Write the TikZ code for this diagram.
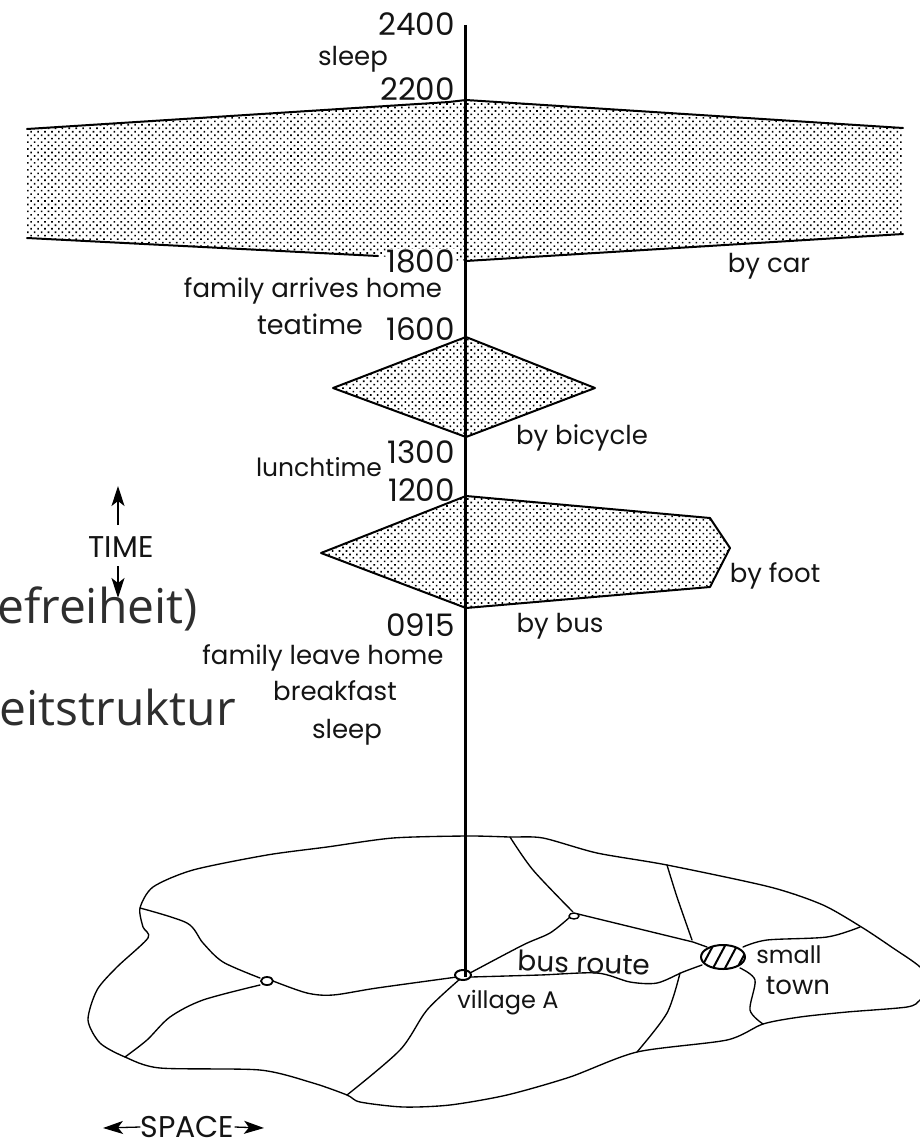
\documentclass[tikz,border=0pt]{standalone}
\usepackage{fontspec}
\setmainfont{Poppins}
\newfontfamily\overlayfont{Open Sans}
\usetikzlibrary{patterns.meta,arrows.meta}
\tikzset{
  x=1pt,y=-1pt,
  dotfill/.style={pattern={Dots[radius=1.15pt,distance=4.9pt,angle=45]},pattern color=black},
  bandedge/.style={line width=2pt,line cap=round,line join=round},
  road/.style={line width=1.35pt,line cap=round,line join=round},
  axisline/.style={line width=3pt},
  num/.style={inner sep=0pt,text=black!92,font=\fontsize{31}{33}\selectfont,anchor=east},
  lab/.style={inner sep=0pt,text=black!92,font=\fontsize{26}{28}\selectfont},
  labsmall/.style={inner sep=0pt,text=black!92,font=\fontsize{24}{26}\selectfont},
  labbig/.style={inner sep=0pt,text=black!92,font=\fontsize{30}{32}\selectfont},
  overtext/.style={inner sep=0pt,anchor=base east,text=black!82,font=\overlayfont\fontsize{48}{52}\selectfont},
  arrowline/.style={-{Stealth[length=20pt,width=13pt,inset=5pt]},line width=1.3pt}
}
\begin{document}
\begin{tikzpicture}
\useasboundingbox (0,0) rectangle (920,1140);
\fill[white] (0,0) rectangle (920,1140);
% dotted areas
\path[dotfill] (27,129) -- (466,100) -- (903,128) -- (903,234) -- (466,261) -- (27,238) -- cycle;
\path[dotfill] (466,337) -- (595,388) -- (466,437) -- (333,388) -- cycle;
\path[dotfill] (466,496) -- (710,518) -- (730,548) -- (710,587) -- (466,608) -- (321,553) -- cycle;
% band outlines
\draw[bandedge] (27,129) -- (449,102) -- (466,100) -- (903,128);
\draw[bandedge] (903,234) -- (466,261);
\draw[bandedge] (27,238) -- (378,256);
\draw[bandedge] (466,337) -- (595,388) -- (466,437) -- (333,388) -- cycle;
\draw[bandedge] (466,496) -- (710,518) -- (730,548) -- (710,587) -- (466,608) -- (321,553) -- cycle;
% map outline
\draw[road] plot[smooth cycle,tension=0.45] coordinates {
 (140,908) (153,887) (193,870) (267,855) (327,847) (393,838) (467,836) (510,837) (543,838)
 (597,853) (667,865) (770,887) (823,905) (863,928) (893,948) (920,967) (930,985) (920,1000)
 (907,1007) (847,1012) (800,1017) (763,1024) (727,1040) (637,1052) (570,1077) (507,1095)
 (450,1105) (403,1107) (360,1102) (347,1095) (313,1083) (260,1070) (160,1068) (125,1057) (100,1043)
 (88,1020) (97,990) (117,967) (148,938) (143,927)};
% roads
\draw[road] plot[smooth,tension=0.5] coordinates {(140,908) (187,923) (203,943) (223,962) (260,978)};
\draw[road] plot[smooth,tension=0.5] coordinates {(273,981) (307,993) (333,995) (377,988) (457,977)};
\draw[road] plot[smooth,tension=0.5] coordinates {(260,985) (203,1000) (170,1017) (147,1040) (125,1057)};
\draw[road] plot[smooth,tension=0.5] coordinates {(460,979) (427,1010) (400,1050) (347,1095)};
\draw[road] plot[smooth,tension=0.5] coordinates {(471,977) (540,975) (597,973) (630,982) (657,983) (683,972) (702,965)};
\draw[road] plot[smooth,tension=0.5] coordinates {(470,973) (523,945) (550,933) (570,917)};
\draw[road] plot[smooth,tension=0.5] coordinates {(510,837) (533,870) (573,912)};
\draw[road] (578,914) -- (693,942) -- (707,947);
\draw[road] plot[smooth,tension=0.5] coordinates {(667,865) (677,897) (692,940)};
\draw[road] plot[smooth,tension=0.5] coordinates {(743,947) (767,940) (827,937) (860,927)};
\draw[road] plot[smooth,tension=0.5] coordinates {(740,968) (755,980) (750,1010) (763,1024)};
\draw[road] plot[smooth,tension=0.5] coordinates {(680,973) (667,1013) (637,1052)};
% settlements
\draw[road,line width=1.8pt,fill=white] (267,981) ellipse (6 and 4);
\draw[road,line width=1.4pt,fill=white] (574,916) ellipse (5 and 3);
\draw[road,line width=2pt,fill=white] (723,957) ellipse (22 and 12);
\begin{scope}
 \clip (723,957) ellipse (22 and 12);
 \draw[road,line width=2pt] (699,972) -- (715,942);
 \draw[road,line width=2pt] (711,972) -- (727,942);
 \draw[road,line width=2pt] (723,972) -- (739,942);
 \draw[road,line width=2pt] (735,972) -- (751,942);
\end{scope}
\draw[road,line width=2pt,fill=white] (463,975) ellipse (8 and 5);
% axis
\coordinate (axistop) at (465.5,25);
\coordinate (axisfoot) at (465.5,977);
\draw[axisline] (axistop) -- (axisfoot);
% time labels
\node[num] (t2400) at (455,24) {2400};
\node[lab] (sleepA) at (353,59) {sleep};
\node[num] (t2200) at (455,89) {2200};
\node[fill=white,inner sep=1pt,num] (t1800) at (455,261) {1800};
\node[lab] (arrives) at (313,291) {family arrives home};
\node[lab,font=\fontsize{27}{29}\selectfont] (teatime) at (310,324) {teatime};
\node[num] (t1600) at (455,329) {1600};
\node[lab] (car) at (769,266) {by car};
\node[lab] (bicycle) at (582,438) {by bicycle};
\node[lab,font=\fontsize{25}{27}\selectfont] (lunch) at (319,467) {lunchtime};
\node[num] (t1300) at (455,452) {1300};
\node[num] (t1200) at (455,490) {1200};
\node[lab] (foot) at (775,576) {by foot};
\node[lab] (bus) at (560,626) {by bus};
\node[num] (t0915) at (455,625) {0915};
\node[lab] (leave) at (323,658) {family leave home};
\node[lab] (breakfast) at (335,691) {breakfast};
\node[lab] (sleepB) at (347,732) {sleep};
\node[labsmall] (village) at (508,1003) {village A};
\node[lab,font=\fontsize{28}{30}\selectfont,rotate=-2] (busroute) at (584,963) {bus route};
\node[labsmall] (small) at (789,955) {small};
\node[lab] (town) at (798,986) {town};
% axis names
\node[labbig] (timelabel) at (121,547) {TIME};
\coordinate (timeup) at (118,486);
\coordinate (timedown) at (118,598);
\draw[arrowline] (118,525) -- (timeup);
\draw[arrowline] (118,566) -- (timedown);
\node[labbig] (spacelabel) at (187.5,1127) {SPACE};
\coordinate (spaceleft) at (103,1128);
\coordinate (spaceright) at (264,1128);
\draw[arrowline] (spacelabel.west) -- (spaceleft);
\draw[arrowline] (spacelabel.east) -- (spaceright);
% overlaid slide text
\node[overtext] (ovA) at (198,623) {efreiheit)};
\node[overtext] (ovB) at (236,725) {eitstruktur};
\end{tikzpicture}
\end{document}
